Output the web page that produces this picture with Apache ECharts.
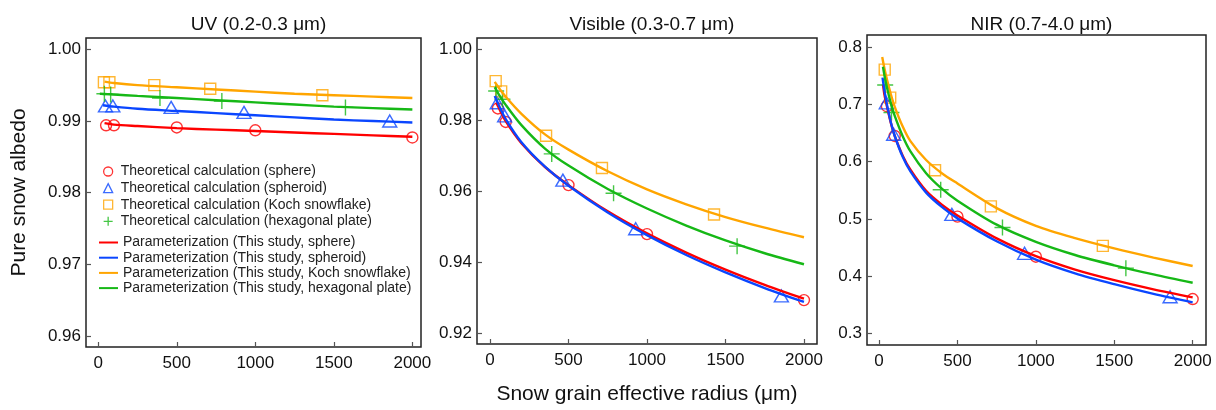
<!DOCTYPE html>
<html>
<head>
<meta charset="utf-8">
<script src="https://cdn.jsdelivr.net/npm/echarts@6/dist/echarts.min.js"></script>
<style>
html,body{margin:0;padding:0;background:#fff;}
#chart{width:1216px;height:410px;}
</style>
</head>
<body>
<div id="chart"></div>
<script>
// ---------- categories / names ----------
const panelTitles = ['UV (0.2-0.3 \u03bcm)', 'Visible (0.3-0.7 \u03bcm)', 'NIR (0.7-4.0 \u03bcm)'];
const theoNames = ['Theoretical calculation (sphere)', 'Theoretical calculation (spheroid)',
  'Theoretical calculation (Koch snowflake)', 'Theoretical calculation (hexagonal plate)'];
const paramNames = ['Parameterization (This study, sphere)', 'Parameterization (This study, spheroid)',
  'Parameterization (This study, Koch snowflake)', 'Parameterization (This study, hexagonal plate)'];

// ---------- tick labels ----------
const xTicks = [0, 500, 1000, 1500, 2000];
const yTicksUV = [0.96, 0.97, 0.98, 0.99, 1.00];
const yTicksVis = [0.92, 0.94, 0.96, 0.98, 1.00];
const yTicksNIR = [0.3, 0.4, 0.5, 0.6, 0.7, 0.8];

// ---------- theoretical calculation radii (um) ----------
const xSphere = [50, 100, 500, 1000, 2000];
const xSpheroid = [46, 93, 464, 928, 1856];
const xKoch = [36, 71, 357, 713, 1427];
const xHex = [39, 79, 393, 787, 1574];

// UV theoretical
const uvSphere = [0.9894, 0.9894, 0.9891, 0.9887, 0.9877];
const uvSpheroid = [0.9921, 0.9921, 0.9919, 0.9912, 0.9900];
const uvKoch = [0.9954, 0.9954, 0.9950, 0.9945, 0.9936];
const uvHex = [0.9938, 0.9937, 0.9932, 0.9928, 0.9919];
// Visible theoretical
const visSphere = [0.9833, 0.9795, 0.9617, 0.9479, 0.9293];
const visSpheroid = [0.9849, 0.9812, 0.9631, 0.9494, 0.9305];
const visKoch = [0.9910, 0.9881, 0.9756, 0.9665, 0.9534];
const visHex = [0.9882, 0.9859, 0.9705, 0.9594, 0.9445];
// NIR theoretical
const nirSphere = [0.697, 0.645, 0.504, 0.434, 0.360];
const nirSpheroid = [0.703, 0.648, 0.508, 0.440, 0.364];
const nirKoch = [0.761, 0.712, 0.585, 0.522, 0.453];
const nirHex = [0.734, 0.686, 0.551, 0.485, 0.414];

// ---------- parameterization curves ----------
// UV
const uvLineSphereX = [40, 100, 250, 500, 750, 1000, 1250, 1500, 1750, 2000];
const uvLineSphereY = [0.9897, 0.9895, 0.9893, 0.9890, 0.9888, 0.9886, 0.9884, 0.9882, 0.9880, 0.9878];
const uvLineSpheroidX = [30, 100, 250, 500, 750, 1000, 1250, 1500, 1750, 2000];
const uvLineSpheroidY = [0.9922, 0.9920, 0.9917, 0.9914, 0.9911, 0.9908, 0.9905, 0.9902, 0.9900, 0.9898];
const uvLineKochX = [40, 100, 250, 500, 750, 1000, 1250, 1500, 1750, 2000];
const uvLineKochY = [0.9955, 0.9953, 0.9950, 0.9947, 0.9944, 0.9941, 0.9938, 0.9936, 0.9934, 0.9932];
const uvLineHexX = [10, 100, 250, 500, 750, 1000, 1250, 1500, 1750, 2000];
const uvLineHexY = [0.9938, 0.9937, 0.9935, 0.9932, 0.9929, 0.9926, 0.9923, 0.9920, 0.9918, 0.9916];
// Visible
const visLineSphereX = [40, 50, 100, 200, 350, 500, 750, 1000, 1250, 1500, 1750, 2000];
const visLineSphereY = [0.9850, 0.9840, 0.9797, 0.9735, 0.9668, 0.9617, 0.9543, 0.9481, 0.9427, 0.9379, 0.9336, 0.9297];
const visLineSpheroidX = [30, 50, 100, 200, 350, 500, 750, 1000, 1250, 1500, 1750, 2000];
const visLineSpheroidY = [0.9868, 0.9848, 0.9803, 0.9738, 0.9669, 0.9615, 0.9540, 0.9476, 0.9420, 0.9371, 0.9327, 0.9288];
const visLineKochX = [30, 50, 100, 200, 350, 500, 750, 1000, 1250, 1500, 1750, 2000];
const visLineKochY = [0.9908, 0.9895, 0.9866, 0.9818, 0.9760, 0.9717, 0.9656, 0.9605, 0.9563, 0.9527, 0.9497, 0.9470];
const visLineHexX = [30, 50, 100, 200, 350, 500, 750, 1000, 1250, 1500, 1750, 2000];
const visLineHexY = [0.9893, 0.9877, 0.9843, 0.9786, 0.9720, 0.9672, 0.9606, 0.9551, 0.9503, 0.9461, 0.9425, 0.9394];
// NIR
const nirLineSphereX = [25, 35, 50, 75, 100, 150, 200, 300, 400, 500, 750, 1000, 1250, 1500, 1750, 2000];
const nirLineSphereY = [0.735, 0.716, 0.697, 0.668, 0.645, 0.611, 0.586, 0.549, 0.525, 0.506, 0.466, 0.435, 0.4115, 0.393, 0.377, 0.363];
const nirLineSpheroidX = [22, 35, 50, 75, 100, 150, 200, 300, 400, 500, 750, 1000, 1250, 1500, 1750, 2000];
const nirLineSpheroidY = [0.747, 0.723, 0.700, 0.669, 0.645, 0.609, 0.583, 0.546, 0.521, 0.501, 0.461, 0.429, 0.405, 0.386, 0.369, 0.3542];
const nirLineKochX = [20, 35, 50, 75, 100, 150, 200, 300, 400, 500, 750, 1000, 1250, 1500, 1750, 2000];
const nirLineKochY = [0.783, 0.762, 0.744, 0.718, 0.696, 0.662, 0.636, 0.603, 0.580, 0.562, 0.519, 0.488, 0.4665, 0.4485, 0.4325, 0.4177];
const nirLineHexX = [25, 35, 50, 75, 100, 150, 200, 300, 400, 500, 750, 1000, 1250, 1500, 1750, 2000];
const nirLineHexY = [0.766, 0.750, 0.730, 0.702, 0.680, 0.645, 0.618, 0.580, 0.553, 0.532, 0.490, 0.460, 0.437, 0.419, 0.403, 0.3885];

// ---------- build ----------
const FONT = '"Liberation Sans", Arial, Helvetica, sans-serif';
const colors = ['#ff0000', '#0a46ff', '#ffa500', '#16b816'];
const plusPath = 'path://M0,8 L16,8 M8,0 L8,16';
const symbols = ['circle', 'triangle', 'rect', plusPath];
const symbolSizes = [11, [14, 12], 11, 16];

const panels = [
  {theo: [uvSphere, uvSpheroid, uvKoch, uvHex],
   lines: [[uvLineSphereX, uvLineSphereY], [uvLineSpheroidX, uvLineSpheroidY], [uvLineKochX, uvLineKochY], [uvLineHexX, uvLineHexY]],
   yTicks: yTicksUV, ymin: 0.95847, ymax: 1.00158, dec: 2, xmin: -78, xmax: 2055,
   grid: {left: 86, top: 38, width: 335, height: 309}},
  {theo: [visSphere, visSpheroid, visKoch, visHex],
   lines: [[visLineSphereX, visLineSphereY], [visLineSpheroidX, visLineSpheroidY], [visLineKochX, visLineKochY], [visLineHexX, visLineHexY]],
   yTicks: yTicksVis, ymin: 0.91693, ymax: 1.00315, dec: 2, xmin: -83, xmax: 2083,
   grid: {left: 477, top: 38, width: 340, height: 309}},
  {theo: [nirSphere, nirSpheroid, nirKoch, nirHex],
   lines: [[nirLineSphereX, nirLineSphereY], [nirLineSpheroidX, nirLineSpheroidY], [nirLineKochX, nirLineKochY], [nirLineHexX, nirLineHexY]],
   yTicks: yTicksNIR, ymin: 0.2797, ymax: 0.8215, dec: 1, xmin: -77, xmax: 2085,
   grid: {left: 867, top: 35, width: 339, height: 310}}
];
const theoX = [xSphere, xSpheroid, xKoch, xHex];

const grids = [], xAxes = [], yAxes = [], series = [], titles = [];
panels.forEach((p, gi) => {
  grids.push(Object.assign({show: true, borderColor: '#222', borderWidth: 1.5, backgroundColor: 'transparent'}, p.grid));
  titles.push({text: panelTitles[gi], left: p.grid.left + p.grid.width / 2, top: 10, textAlign: 'center',
    textStyle: {fontFamily: FONT, fontSize: 19, fontWeight: 'normal', color: '#111'}});
  const xa = {type: 'value', gridIndex: gi, min: p.xmin, max: p.xmax,
    axisLine: {show: false, onZero: false}, splitLine: {show: false},
    axisTick: {show: true, inside: true, length: 5, lineStyle: {color: '#555', width: 1.2}, customValues: xTicks},
    axisLabel: {customValues: xTicks, fontFamily: FONT, fontSize: 17, color: '#111', margin: 8, formatter: v => String(Math.round(v))}};
  if (gi === 1) {
    xa.name = 'Snow grain effective radius (\u03bcm)';
    xa.nameLocation = 'middle';
    xa.nameGap = 40;
    xa.nameTextStyle = {fontFamily: FONT, fontSize: 21, color: '#111'};
  }
  xAxes.push(xa);
  const ya = {type: 'value', gridIndex: gi, min: p.ymin, max: p.ymax,
    axisLine: {show: false, onZero: false}, splitLine: {show: false},
    axisTick: {show: true, inside: true, length: 5, lineStyle: {color: '#555', width: 1.2}, customValues: p.yTicks},
    axisLabel: {customValues: p.yTicks, fontFamily: FONT, fontSize: 17, color: '#111', margin: 5, formatter: v => v.toFixed(p.dec)}};
  if (gi === 0) {
    ya.name = 'Pure snow albedo';
    ya.nameLocation = 'middle';
    ya.nameGap = 56;
    ya.nameTextStyle = {fontFamily: FONT, fontSize: 21, color: '#111'};
  }
  yAxes.push(ya);
  // theoretical scatter
  p.theo.forEach((ys, si) => {
    series.push({type: 'scatter', name: theoNames[si], xAxisIndex: gi, yAxisIndex: gi,
      symbol: symbols[si], symbolSize: symbolSizes[si], z: 2,
      itemStyle: {color: 'rgba(0,0,0,0)', borderColor: colors[si], borderWidth: 1.4},
      data: theoX[si].map((x, i) => [x, ys[i]])});
  });
  // parameterization lines
  p.lines.forEach((xy, si) => {
    series.push({type: 'line', name: paramNames[si], xAxisIndex: gi, yAxisIndex: gi,
      showSymbol: false, symbol: 'none', smooth: 0.3, z: 3,
      lineStyle: {color: colors[si], width: 2.4}, itemStyle: {color: colors[si]},
      data: xy[0].map((x, i) => [x, xy[1][i]])});
  });
});

const chart = echarts.init(document.getElementById('chart'), null, {renderer: 'canvas'});
chart.setOption({
  animation: false,
  backgroundColor: '#fff',
  title: titles,
  grid: grids,
  xAxis: xAxes,
  yAxis: yAxes,
  legend: [
    {data: theoNames, orient: 'vertical', left: 103, top: 164, padding: 0, itemGap: 1.6,
     itemWidth: 9, itemHeight: 9, selectedMode: false,
     itemStyle: {borderWidth: 1.3},
     textStyle: {fontFamily: FONT, fontSize: 14, lineHeight: 15, color: '#222', padding: [0, 0, 0, 3]}},
    {data: paramNames, orient: 'vertical', left: 99, top: 235, padding: 0, itemGap: 0.2,
     itemWidth: 19, itemHeight: 2, icon: 'rect', selectedMode: false,
     textStyle: {fontFamily: FONT, fontSize: 14, lineHeight: 15, color: '#222'}}
  ],
  series: series
});
</script>
</body>
</html>
